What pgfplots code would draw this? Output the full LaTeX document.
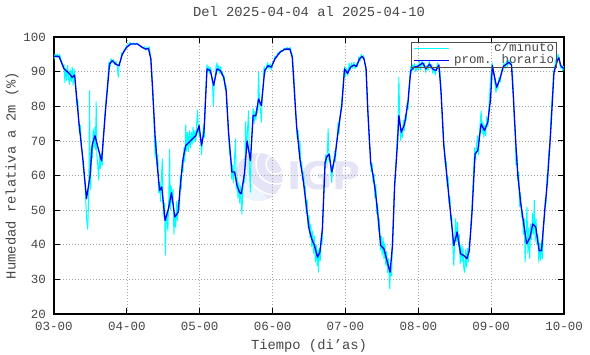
\documentclass[border=0pt]{standalone}
\usepackage{fontspec}
\setmainfont{Liberation Mono}
\newfontfamily\logofont{DejaVu Sans}
\usepackage{pgfplots}
\pgfplotsset{compat=1.18}
\usepackage{pgfplotstable}
\definecolor{cmin}{RGB}{0,255,255}
\definecolor{chor}{RGB}{0,0,245}
\definecolor{gridc}{RGB}{165,165,165}
\definecolor{logoc}{RGB}{228,228,246}
\definecolor{logol}{RGB}{236,244,255}
\definecolor{txt}{RGB}{70,70,70}
\newcommand\tickfont{\fontsize{12.5bp}{14bp}\selectfont}
\newcommand\labfont{\fontsize{13.8bp}{15bp}\selectfont}

\pgfplotstableread{
h v
0 94.4
1.65 94.4
3.3 90.8
4.9 89.6
6.0 88.3
6.8 89.0
8.2 75.4
9.6 64
10.7 53.3
11.9 60
12.6 69
13.5 71.5
15.4 65
15.7 64.3
17.0 79.2
18.3 92.2
19.2 93.2
20.3 92.2
21.4 91.7
22.5 95
23.9 97
25.3 98
27.5 98
29.1 97
30.2 96.5
31.1 96.7
31.9 93.7
32.4 86
33.3 71.5
34.1 62
34.8 55.7
35.5 56.7
36.6 47
37.7 50.4
38.7 55
39.8 48
40.9 49.4
41.7 58
42.5 64.8
43.4 68.7
44.5 69.6
45.6 70.6
46.7 71.5
47.8 74.4
48.6 68.7
49.4 72.5
50.4 90.8
51.5 90.3
52.6 86
53.7 90.8
54.8 90.3
55.9 88.4
56.7 84.5
57.5 72.5
58.6 61
59.5 61
60.3 57.1
61.1 55.2
61.7 54.7
62.8 61
63.6 70
64.7 64.3
65.6 77.3
66.5 77.3
67.4 82.1
68.3 80.2
69.4 90.3
70.5 91.7
71.6 91.3
72.8 93.7
74.4 95.6
76.1 96.5
77.7 96.5
78.5 94.1
79.2 84
79.9 74.4
81.0 64.8
82.2 58
83.2 50.4
84.0 44.6
84.9 41.7
85.8 39.8
86.8 36.4
87.6 37.9
88.4 44.6
89.3 63.8
89.8 65.3
90.6 66.2
91.5 61
92.6 65.7
93.7 73.5
94.8 80.2
95.7 90.8
96.7 89.5
97.7 91.3
98.8 91.9
99.6 91.5
100.7 93.8
101.5 94.4
102.1 93.7
102.8 90.8
103.4 78.3
104.3 63.8
105.1 60
105.9 55.2
106.7 48.5
107.6 39.8
108.7 38.8
109.8 35
110.7 32.1
111.5 39.8
112.2 57.1
113.1 68.7
113.6 77.3
114.4 72.5
115.5 74.9
116.6 81.2
117.5 90.3
118.6 91.3
119.8 91.5
120.6 92.0
121.5 92.5
122.5 90.8
123.7 92.2
124.7 90.8
125.8 90.3
126.8 91.9
127.5 84
128.4 68.7
129.5 59
130.6 49.4
131.7 39.8
132.8 43.7
133.9 37.4
135.0 36.9
136.0 36
136.8 38.3
137.7 49.4
138.7 66.2
139.6 67.2
140.7 74.9
141.8 73
142.9 75.4
143.8 82.1
144.4 91.7
145.8 85.5
146.9 87.9
148.0 91.5
149.1 92.2
149.9 92.7
150.7 91.9
151.3 83
152.1 69.6
152.8 60
153.7 52.3
154.8 45.6
155.7 40.3
156.8 42.1
157.7 46
158.7 45.1
159.8 38.3
160.6 38.3
161.6 49.4
162.5 58
163.6 72.5
164.7 89.8
165.8 93.2
166.3 94
166.9 91.7
167.8 91
168 90.8
}\horario

\pgfplotstableread{
h v
0 93.5
0.3 95
0.7 94.2
1.0 95.1
1.4 94.0
1.8 95.0
2.2 93.8
2.6 92.8
3.0 91.5
3.3 92.0
3.6 86.8
3.9 91.0
4.2 87.5
4.5 91.8
4.8 88.0
5.1 86.3
5.4 90.5
5.7 87.2
6.0 91.3
6.3 86.0
6.6 90.8
6.9 88.2
7.2 84.5
7.5 80.5
7.8 82.0
8.1 76.0
8.4 72.0
8.7 74.5
9.0 68.0
9.3 67.0
9.6 62.5
9.9 60.0
10.2 57.5
10.5 52.0
10.8 47.0
11.1 44.5
11.3 50.0
11.5 58.0
11.7 84.5
11.9 62.0
12.1 56.0
12.3 68.0
12.6 65.0
12.9 73.5
13.2 68.0
13.5 74.0
13.7 67.5
13.9 81.3
14.1 66.0
14.4 63.0
14.7 58.7
15.0 66.0
15.3 62.0
15.6 66.5
15.9 63.0
16.2 70.0
16.6 75.0
17.0 80.5
17.4 84.0
17.8 88.5
18.1 92.8
18.5 91.5
18.8 93.8
19.2 92.5
19.6 93.5
20.0 92.0
20.4 93.0
20.8 91.5
21.2 88.4
21.5 92.5
21.9 93.0
22.3 95.5
22.7 95.0
23.1 96.5
23.5 96.5
23.9 97.5
24.5 97.8
25.0 98.4
25.6 97.8
26.2 98.3
26.8 97.8
27.4 98.3
28.0 97.6
28.6 97.2
29.2 96.8
29.8 97.2
30.2 96.2
30.6 97.0
31.0 96.3
31.4 97.2
31.8 94.5
32.1 91.0
32.4 87.5
32.7 82.0
33.0 74.0
33.3 65.0
33.6 70.0
33.9 63.0
34.2 66.0
34.5 55.0
34.8 58.0
35.1 52.5
35.4 60.0
35.7 64.8
35.9 52.0
36.2 48.0
36.4 52.0
36.7 37.0
36.9 45.0
37.2 49.5
37.5 44.0
37.8 53.0
38.1 67.6
38.3 50.0
38.6 57.0
38.9 52.0
39.2 56.0
39.5 43.0
39.8 49.0
40.1 45.0
40.4 52.5
40.7 47.0
41.0 53.0
41.3 50.0
41.6 60.0
41.9 56.0
42.2 64.0
42.5 61.0
42.8 68.0
43.1 64.0
43.4 74.6
43.7 67.0
44.0 72.5
44.3 67.0
44.6 73.0
44.9 68.0
45.2 72.5
45.5 69.0
45.8 74.0
46.1 69.5
46.4 73.0
46.7 70.0
47.0 75.0
47.3 78.9
47.6 73.0
47.9 71.0
48.2 72.0
48.6 66.0
48.9 70.0
49.2 74.5
49.5 71.0
49.8 80.0
50.1 86.0
50.4 92.0
50.7 89.8
51.0 91.5
51.3 89.5
51.6 91.2
51.9 88.5
52.2 87.0
52.5 80.0
52.8 86.5
53.1 89.0
53.4 91.5
53.7 92.5
54.0 90.0
54.3 91.8
54.6 89.5
54.9 91.5
55.2 89.0
55.5 90.0
55.8 87.5
56.1 88.5
56.4 85.0
56.7 86.0
57.0 80.0
57.3 75.0
57.6 70.0
57.9 66.0
58.2 65.5
58.5 59.0
58.8 63.0
59.1 58.0
59.4 64.0
59.8 70.6
60.0 56.0
60.3 59.5
60.6 53.5
60.9 58.0
61.2 52.0
61.5 57.0
61.9 48.8
62.2 56.0
62.5 60.0
62.8 58.0
63.1 75.5
63.4 67.0
63.7 72.5
64.1 78.7
64.4 62.0
64.7 55.2
65.0 68.0
65.3 74.0
65.6 79.5
65.9 75.0
66.2 78.5
66.5 76.0
66.8 80.0
67.1 78.0
67.4 89.8
67.7 81.0
68.0 79.0
68.3 75.4
68.6 83.0
68.9 86.0
69.2 91.5
69.6 89.5
70.0 91.5
70.4 92.6
70.8 90.8
71.2 92.3
71.6 90.5
72.0 92.5
72.4 93.0
72.8 94.5
73.3 94.0
73.8 95.5
74.3 95.0
74.8 96.2
75.3 95.8
75.8 96.8
76.3 96.2
76.8 97.0
77.3 96.3
77.8 97.0
78.2 95.5
78.5 94.8
78.9 90.0
79.2 86.0
79.5 79.7
79.8 76.0
80.1 71.0
80.4 73.0
80.7 67.0
81.0 70.0
81.3 62.5
81.6 64.0
81.9 58.5
82.2 61.0
82.5 55.0
82.8 57.0
83.1 49.0
83.4 53.0
83.7 45.0
84.0 48.5
84.3 42.0
84.6 46.0
84.9 39.5
85.2 44.0
85.5 37.5
85.8 42.5
86.1 35.0
86.4 40.0
86.7 34.0
87.0 38.5
87.1 32.1
87.4 39.0
87.7 35.5
88.0 42.0
88.3 40.0
88.6 48.0
88.9 56.0
89.2 62.0
89.5 66.0
89.8 63.5
90.1 68.0
90.3 73.5
90.6 64.0
90.9 66.0
91.2 61.0
91.5 58.0
91.8 63.0
92.1 62.0
92.4 67.0
92.7 64.0
93.0 69.5
93.3 71.0
93.6 75.5
93.9 72.0
94.2 77.0
94.5 79.0
94.8 82.0
95.1 84.0
95.4 88.0
95.7 91.5
96.0 88.5
96.4 91.0
96.8 88.8
97.2 92.5
97.6 90.5
98.0 92.5
98.4 91.0
98.8 92.8
99.2 90.8
99.6 92.3
100.0 91.5
100.4 94.3
100.8 93.0
101.2 95.0
101.6 94.0
102.0 94.6
102.4 92.5
102.7 91.5
103.0 86.0
103.3 80.0
103.6 75.0
103.9 69.0
104.2 67.0
104.5 61.0
104.8 63.5
105.1 58.0
105.4 60.5
105.7 53.5
106.0 57.5
106.3 49.0
106.6 52.0
106.9 44.0
107.2 47.5
107.5 38.5
107.8 42.5
108.1 37.0
108.4 42.0
108.7 36.0
109.0 40.5
109.3 34.0
109.6 38.0
109.9 32.0
110.2 36.0
110.6 27.3
110.9 34.0
111.2 31.0
111.5 42.0
111.8 47.0
112.1 55.0
112.4 60.0
112.7 64.0
113.0 70.0
113.3 74.0
113.6 88.4
113.9 76.0
114.2 70.0
114.5 73.5
114.8 71.0
115.1 76.0
115.4 73.0
115.7 77.5
116.0 76.0
116.3 81.0
116.6 79.0
116.9 85.0
117.2 88.0
117.5 91.5
117.8 89.5
118.1 92.0
118.4 90.5
118.8 92.3
119.2 90.0
119.6 92.0
120.0 90.5
120.4 93.0
120.8 90.5
121.2 93.3
121.6 91.5
122.0 92.5
122.4 89.8
122.8 91.8
123.2 90.3
123.6 93.0
124.0 91.0
124.4 92.0
124.8 89.5
125.2 91.0
125.6 89.0
126.0 91.0
126.4 92.5
126.8 90.8
127.1 90.5
127.4 86.5
127.7 80.0
128.0 76.0
128.3 70.0
128.6 68.0
128.9 63.0
129.2 64.0
129.5 57.0
129.8 59.5
130.1 52.0
130.4 54.0
130.7 47.0
131.0 48.5
131.3 41.0
131.7 34.0
132.0 42.0
132.3 47.5
132.6 41.0
132.9 46.5
133.2 39.5
133.5 43.0
133.8 34.5
134.1 40.0
134.4 35.0
134.7 39.5
135.0 33.0
135.3 32.0
135.6 38.5
135.9 33.5
136.2 39.0
136.5 35.0
136.8 41.0
137.1 42.0
137.4 47.0
137.7 51.0
138.0 57.0
138.3 63.0
138.6 68.0
138.9 64.5
139.2 69.0
139.6 71.5
139.9 66.0
140.2 73.0
140.7 78.7
141.0 72.0
141.3 75.5
141.6 71.0
141.9 74.5
142.2 71.5
142.5 77.0
142.9 74.0
143.2 79.0
143.5 83.0
143.8 88.0
144.1 91.0
144.4 92.5
144.7 90.0
145.0 88.5
145.3 86.0
145.6 84.0
145.9 86.5
146.2 85.0
146.6 88.5
147.0 87.0
147.4 90.5
147.8 90.0
148.2 92.5
148.6 91.0
149.0 93.0
149.4 91.5
149.8 93.3
150.2 92.0
150.6 92.8
151.0 90.0
151.3 84.5
151.6 77.0
151.9 73.0
152.2 62.9
152.5 66.0
152.8 58.5
153.1 61.0
153.4 51.0
153.7 55.0
154.0 48.0
154.3 50.0
154.6 43.0
154.9 47.5
155.2 35.0
155.5 44.0
155.8 50.9
156.1 37.5
156.4 45.0
156.7 36.0
157.0 46.0
157.3 41.5
157.6 49.0
157.9 43.0
158.2 52.8
158.5 41.0
158.8 47.5
159.1 40.0
159.4 43.0
159.7 35.0
160.0 40.5
160.3 35.5
160.6 41.0
160.9 36.0
161.2 45.0
161.5 47.0
161.8 53.0
162.1 52.0
162.4 60.0
162.7 61.0
163.0 67.0
163.3 68.0
163.6 75.0
163.9 80.0
164.2 84.0
164.5 89.0
164.8 91.0
165.1 92.0
165.4 93.8
165.7 92.5
166.0 95.0
166.3 94.2
166.6 93.0
166.9 91.0
167.2 92.0
167.5 90.2
167.8 91.5
168.0 90.5
}\minuto

\begin{document}
\begin{tikzpicture}[x=1bp,y=1bp]
% watermark logo
\fill[logoc] (204.5,137) circle (24);
\begin{scope}
\clip (204.5,137) circle (24);
\fill[logol] (180,113) -- (180,140) .. controls (195,135) and (210,122) .. (215,113) -- cycle;
\draw[white, line width=1.5bp] (222,150) circle (10);
\draw[white, line width=1.5bp] (222,150) circle (20);
\draw[white, line width=1.5bp] (222,150) circle (31);
\end{scope}
\node[font={\logofont\bfseries\fontsize{38bp}{40bp}\selectfont}, text=logoc, inner sep=0pt] at (270,138) {IGP};
\begin{axis}[
  at={(0,0)}, anchor=south west,
  scale only axis, width=510bp, height=277bp,
  xmin=0, xmax=168, ymin=20, ymax=100,
  xtick={0,24,...,168},
  xticklabels={03-00,04-00,05-00,06-00,07-00,08-00,09-00,10-00},
  ytick={20,30,...,100},
  grid=major,
  major grid style={gridc, dash pattern=on 1bp off 2bp, line width=0.6bp},
  tick align=inside, major tick length=6bp,
  tick style={black, line width=1bp},
  axis line style={black, line width=1.3bp},
  /pgf/number format/assume math mode=true,
  ticklabel style={font=\tickfont, text=txt},
  xticklabel style={anchor=base, yshift=-16.5bp},
  yticklabel style={anchor=east, inner sep=0pt, xshift=-8bp},
  title={Del 2025-04-04 al 2025-04-10},
  title style={font=\labfont, text=txt, at={(axis description cs:0.5,1.0542)}, anchor=base},
  xlabel={Tiempo (di'as)},
  xlabel style={font=\labfont, text=txt, at={(axis description cs:0.5,-0.1264)}, anchor=base},
  ylabel={Humedad relativa a 2m (\%)},
  ylabel style={font=\labfont, text=txt, at={(axis description cs:-0.0824,0.5)}, anchor=center, rotate=0},
  legend style={at={(0.986,0.982)}, anchor=north east, draw=black!70, line width=0.8bp,
    fill=none, inner xsep=2bp, inner ysep=0.5bp, font=\tickfont, text=txt,
    nodes={inner sep=0.3bp, text height=8.5bp, text depth=2.8bp}, column sep=4bp},
  legend cell align=right,
  legend image code/.code={\draw[#1] (0bp,0bp) -- (35bp,0bp);},
]
\addplot[cmin, line width=1bp, line join=round] table[x=h,y=v]{\minuto};
\addplot[chor, line width=1.3bp, line join=round] table[x=h,y=v]{\horario};
\legend{c/minuto, prom. horario}
\end{axis}
\pgfresetboundingbox
\path[use as bounding box] (-54,-40) rectangle (536,314);
\end{tikzpicture}
\end{document}
